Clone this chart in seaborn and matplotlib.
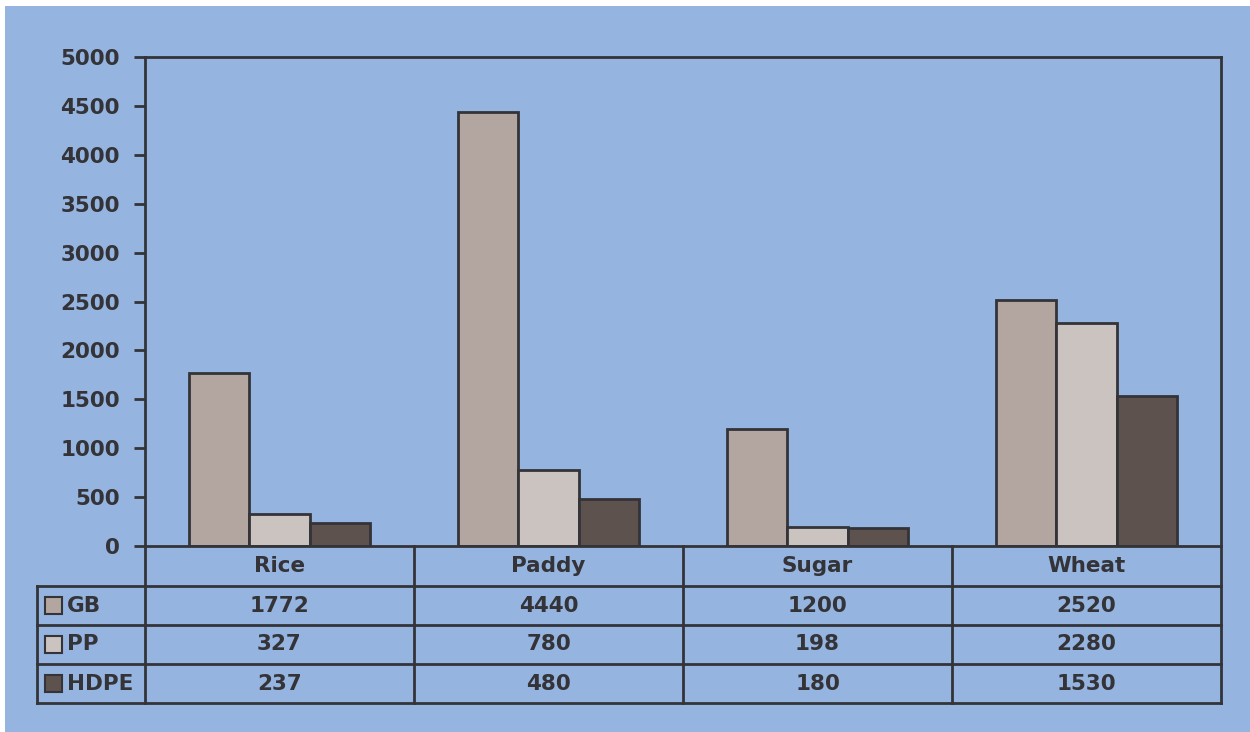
import matplotlib
matplotlib.use("Agg")
import matplotlib.pyplot as plt
import seaborn as sns
import pandas as pd
from matplotlib.patches import Rectangle

categories = ["Rice", "Paddy", "Sugar", "Wheat"]
series_names = ["GB", "PP", "HDPE"]
gb = [1772, 4440, 1200, 2520]
pp = [327, 780, 198, 2280]
hdpe = [237, 480, 180, 1530]
yticks = [0, 500, 1000, 1500, 2000, 2500, 3000, 3500, 4000, 4500, 5000]

colors = ["#B3A6A0", "#CBC3BF", "#5E524E"]
bg = "#95B4DF"
ink = "#333338"

sns.set_theme(style="white")
plt.rcParams["font.family"] = ["DejaVu Sans"]

df = pd.DataFrame({
    "category": categories * 3,
    "series": sum([[s] * 4 for s in series_names], []),
    "value": gb + pp + hdpe,
})

W, H = 1250, 732
fig = plt.figure(figsize=(W / 100, H / 100), dpi=100)
fig.patch.set_facecolor("white")
fig.patches.append(Rectangle((5 / W, 0), 1, 1 - 6 / H, transform=fig.transFigure,
                             facecolor=bg, edgecolor="none", zorder=-10))

ax_l, ax_r, ax_t, ax_b = 145, 1221, 57, 546
ax = fig.add_axes([ax_l / W, 1 - ax_b / H, (ax_r - ax_l) / W, (ax_b - ax_t) / H])
ax.set_facecolor(bg)

sns.barplot(data=df, x="category", y="value", hue="series", palette=colors,
            order=categories, hue_order=series_names, width=0.67,
            edgecolor=ink, linewidth=2, ax=ax, legend=False, saturation=1)

FS = 15.5
ax.set_ylim(0, 5000)
ax.set_xlim(-0.5, 3.5)
ax.set_yticks(yticks)
ax.set_yticklabels([str(v) for v in yticks], fontsize=FS, fontweight="bold", color=ink)
ax.set_xticks([])
ax.set_xlabel("")
ax.set_ylabel("")
ax.tick_params(axis="y", direction="out", length=8, width=2, color=ink, pad=10, left=True)
for s in ax.spines.values():
    s.set_visible(True)
    s.set_color(ink)
    s.set_linewidth(2)

# ---- data table below the axes (drawn in axes coordinates) ----
axw = ax_r - ax_l
axh = ax_b - ax_t
lab_w = 108
hdr_h = 40
row_h = 39
rows = [gb, pp, hdpe]
ncat = len(categories)

def ay(px_below):  # pixels below the axes bottom -> axes y
    return -px_below / axh

lx = -lab_w / axw
line_kw = dict(transform=ax.transAxes, clip_on=False, color=ink, lw=2,
               solid_capstyle="projecting")
# horizontal lines
for k in range(1, 4 + 0):
    yy = ay(hdr_h + row_h * (k - 1))
    ax.plot([lx, 1], [yy, yy], **line_kw)
ax.plot([lx, 1], [ay(hdr_h + 3 * row_h)] * 2, **line_kw)
# vertical lines
for j in range(ncat + 1):
    xx = j / ncat
    ax.plot([xx, xx], [0, ay(hdr_h + 3 * row_h)], **line_kw)
ax.plot([lx, lx], [ay(hdr_h), ay(hdr_h + 3 * row_h)], **line_kw)

txt_kw = dict(transform=ax.transAxes, fontsize=FS, fontweight="bold", color=ink,
              va="center", clip_on=False)
for j, c in enumerate(categories):
    ax.text((j + 0.5) / ncat, ay(hdr_h / 2), c, ha="center", **txt_kw)
for i, (name, vals, col) in enumerate(zip(series_names, rows, colors)):
    yc = ay(hdr_h + row_h * (i + 0.5))
    ax.text((67 - ax_l) / axw, yc, name, ha="left", **txt_kw)
    for j, v in enumerate(vals):
        ax.text((j + 0.5) / ncat, yc, str(v), ha="center", **txt_kw)
    ax.add_patch(Rectangle(((45 - ax_l) / axw, yc - 8.5 / axh), 17 / axw, 17 / axh,
                           transform=ax.transAxes, facecolor=col, edgecolor=ink,
                           linewidth=1.5, clip_on=False))

fig.savefig("out.png", dpi=100, facecolor=fig.get_facecolor())
